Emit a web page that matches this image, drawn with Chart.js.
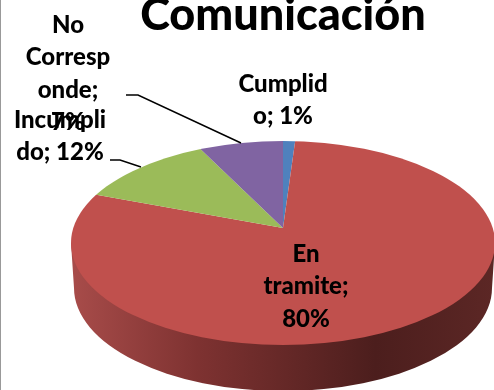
<!DOCTYPE html>
<html><head><meta charset="utf-8">
<script src="https://cdn.jsdelivr.net/npm/chart.js@4"></script>
<style>html,body{margin:0;padding:0;background:#fff;overflow:hidden}canvas{display:block}</style>
</head><body><canvas id="c" width="494" height="390"></canvas>
<script>
const titleText = "Comunicación";
const categories = ["Cumplido", "En tramite", "Incumplido", "No Corresponde"];
const values = [1, 80, 12, 7];
const colors = ["#4F81BD", "#C0504D", "#9BBB59", "#8064A2"];
const labelLines = [["Cumplid", "o; 1%"], ["En", "tramite;", "80%"], ["Incumpli", "do; 12%"], ["No", "Corresp", "onde;", "7%"]];
const labelPos = [[283, 84], [306, 254], [60, 120], [68, 25]];
const leaders = [null, null, [[110,160],[120,160],[141,167]], [[126,95],[138,95],[241,143]]];
const squash = 0.45, lineGap = 32.5;
const top3d = {x:283, y:243, rx:212, ry:102};
const low3d = {x:283, y:288, rx:209, ry:103};

const pie3d = {
  id: "pie3d",
  beforeDatasetsDraw(chart) {
    const ctx = chart.ctx;
    const arc = chart.getDatasetMeta(0).data[0];
    const g = ctx.createLinearGradient(71, 0, 494, 0);
    g.addColorStop(0, "#A84C4A");
    g.addColorStop(0.3, "#7E3231");
    g.addColorStop(0.72, "#4C1E1D");
    g.addColorStop(1, "#5C2725");
    ctx.save();
    ctx.fillStyle = g;
    ctx.beginPath();
    ctx.moveTo(top3d.x - top3d.rx, top3d.y);
    ctx.lineTo(low3d.x - low3d.rx, low3d.y);
    ctx.ellipse(low3d.x, low3d.y, low3d.rx, low3d.ry, 0, Math.PI, 0, true);
    ctx.lineTo(top3d.x + top3d.rx, top3d.y);
    ctx.closePath();
    ctx.fill();
    ctx.restore();
    ctx.save();
    ctx.beginPath();
    ctx.ellipse(top3d.x, top3d.y, top3d.rx, top3d.ry, 0, 0, Math.PI * 2);
    ctx.clip();
    ctx.translate(arc.x, arc.y);
    ctx.scale(1, squash);
    ctx.translate(-arc.x, -arc.y);
  },
  afterDatasetsDraw(chart) {
    const ctx = chart.ctx;
    ctx.restore();
    ctx.save();
    ctx.strokeStyle = "#000";
    ctx.lineWidth = 1.5;
    leaders.forEach(l => {
      if (!l) return;
      ctx.beginPath();
      l.forEach((p, i) => i ? ctx.lineTo(p[0], p[1]) : ctx.moveTo(p[0], p[1]));
      ctx.stroke();
    });
    ctx.fillStyle = "#000";
    ctx.font = "900 24px Lato, sans-serif";
    ctx.textAlign = "center";
    ctx.textBaseline = "middle";
    labelLines.forEach((lines, i) => lines.forEach((t, j) =>
      ctx.fillText(t, labelPos[i][0], labelPos[i][1] + j * lineGap)));
    ctx.strokeStyle = "#999";
    ctx.lineWidth = 1;
    ctx.beginPath();
    ctx.moveTo(0.5, 0);
    ctx.lineTo(0.5, 390);
    ctx.stroke();
    ctx.restore();
  }
};

new Chart(document.getElementById("c"), {
  type: "pie",
  data: { labels: categories, datasets: [{ data: values, backgroundColor: colors, borderWidth: 0, radius: 320 }] },
  options: {
    responsive: false,
    animation: false,
    layout: { padding: { left: 72, top: 0 } },
    plugins: {
      legend: { display: false },
      tooltip: { enabled: false },
      title: { display: true, text: titleText, color: "#000",
        font: { family: "Lato, sans-serif", size: 45, weight: "900" },
        padding: { top: -12, bottom: 24 } }
    }
  },
  plugins: [pie3d]
});
</script></body></html>
